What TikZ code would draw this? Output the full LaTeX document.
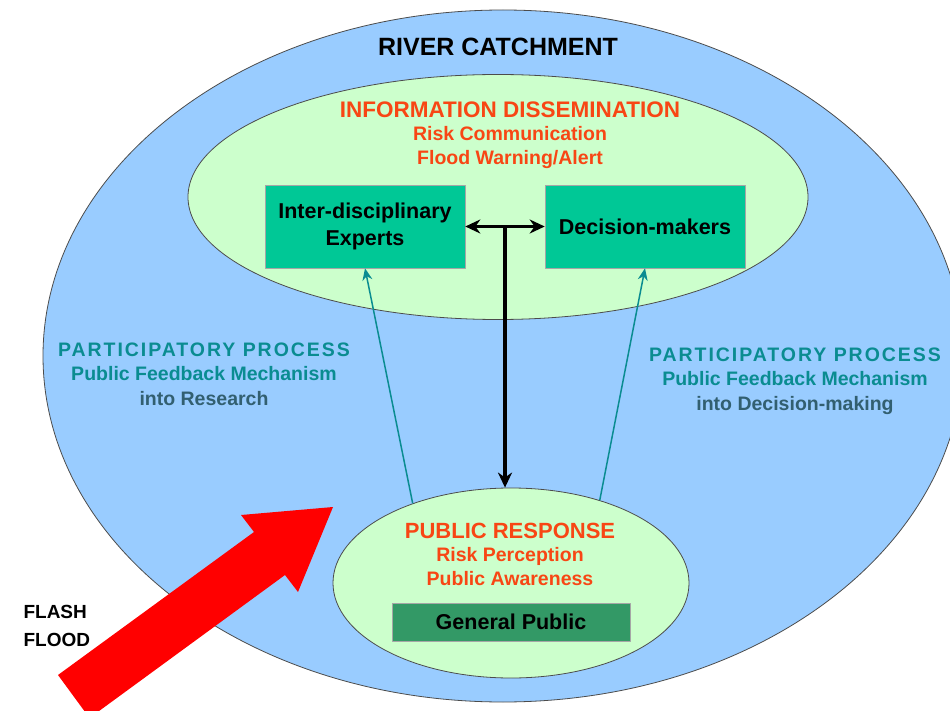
\documentclass[tikz,border=0pt]{standalone}
\usepackage{fontspec}
\setmainfont{Liberation Sans}
\newfontfamily\trackedsf[LetterSpace=10]{Liberation Sans}
\usetikzlibrary{shapes.geometric,arrows.meta,calc}
\definecolor{catchblue}{RGB}{153,204,255}
\definecolor{palegreen}{RGB}{204,255,204}
\definecolor{boxteal}{RGB}{0,200,150}
\definecolor{publicgreen}{RGB}{51,153,102}
\definecolor{alertred}{RGB}{248,70,20}
\definecolor{feedteal}{RGB}{10,140,145}
\definecolor{feedslate}{RGB}{50,95,112}
\definecolor{floodred}{RGB}{255,0,0}
\begin{document}
\begin{tikzpicture}[x=1pt,y=-1pt,>={Stealth[length=15pt,width=14pt]},line join=round,
	zone/.style={ellipse,draw=black!70,line width=0.8pt,inner sep=0pt},
	actor/.style={rectangle,draw=black!35,fill=boxteal,line width=0.6pt,minimum width=200pt,minimum height=83pt,align=center,font=\fontsize{21.5}{27}\selectfont\bfseries},
	link/.style={line width=3.3pt},
	feedback/.style={draw=feedteal,line width=1.5pt,-{Stealth[length=12pt,width=10pt]}}]
				\path[use as bounding box,fill=white] (0,0) rectangle (950,711);
				\clip (0,0) rectangle (950,711);
				% the three zones
				\node[zone,fill=catchblue,minimum width=920pt,minimum height=692pt] (catch) at (503,356) {};
				\node[zone,fill=palegreen,minimum width=620pt,minimum height=245pt] (info) at (498,197) {};
				\node[zone,fill=palegreen,minimum width=356pt,minimum height=190pt] (resp) at (511,583) {};
				\node[font=\fontsize{25}{28}\selectfont\bfseries] (catchtxt) at (498,47) {RIVER CATCHMENT};
				\node[align=center,text=alertred,font=\fontsize{19.5}{23.5}\selectfont\bfseries] (infotxt) at (510,135) {{\fontsize{22.5}{23.5}\selectfont INFORMATION DISSEMINATION}\\Risk Communication\\Flood Warning/Alert};
				\node[actor] (experts) at (365,226.5) {Inter-disciplinary\\Experts};
				\node[actor] (decision) at (645,226.5) {Decision-makers};
				\node[align=center,text=alertred,font=\fontsize{19.5}{23.5}\selectfont\bfseries] (resptxt) at (510,554) {{\fontsize{22}{23.5}\selectfont PUBLIC RESPONSE}\\Risk Perception\\Public Awareness};
				\node[draw=black!35,fill=publicgreen,line width=0.6pt,minimum width=238pt,minimum height=38pt,font=\fontsize{21.5}{24}\selectfont\bfseries] (public) at (511,622) {General Public};
				% participatory process labels
				\node[align=center,font=\fontsize{19.5}{24.5}\selectfont\bfseries] (partleft) at (204,374) {{\trackedsf\bfseries\color{feedteal}PARTICIPATORY PROCESS}\\\textcolor{feedteal}{Public Feedback Mechanism}\\\textcolor{feedslate}{into Research}};
				\node[align=center,font=\fontsize{19.5}{24.5}\selectfont\bfseries] (partright) at (795,381) {{\trackedsf\bfseries\color{feedteal}PARTICIPATORY PROCESS}\\\textcolor{feedteal}{Public Feedback Mechanism}\\\textcolor{feedslate}{into Decision-making}};
				\node[anchor=west,align=left,font=\fontsize{19}{28}\selectfont\bfseries] (flash) at (20,626) {FLASH\\FLOOD};
				% connectors
				\coordinate (hub) at ($(experts.east)!0.5!(decision.west)$);
				\draw[link,<->] (experts) -- (decision);
				\draw[link,->] (hub) -- (hub |- resp.north);
				\draw[feedback] (resp.141) -- (experts.south);
				\draw[feedback] (resp.43) -- (decision.south);
				% flash flood arrow
				\fill[floodred] (58,675) -- (254,532) -- (241,515) -- (333,507) -- (298,592) -- (285,575) -- (89.5,718) -- cycle;
\end{tikzpicture}
\end{document}
